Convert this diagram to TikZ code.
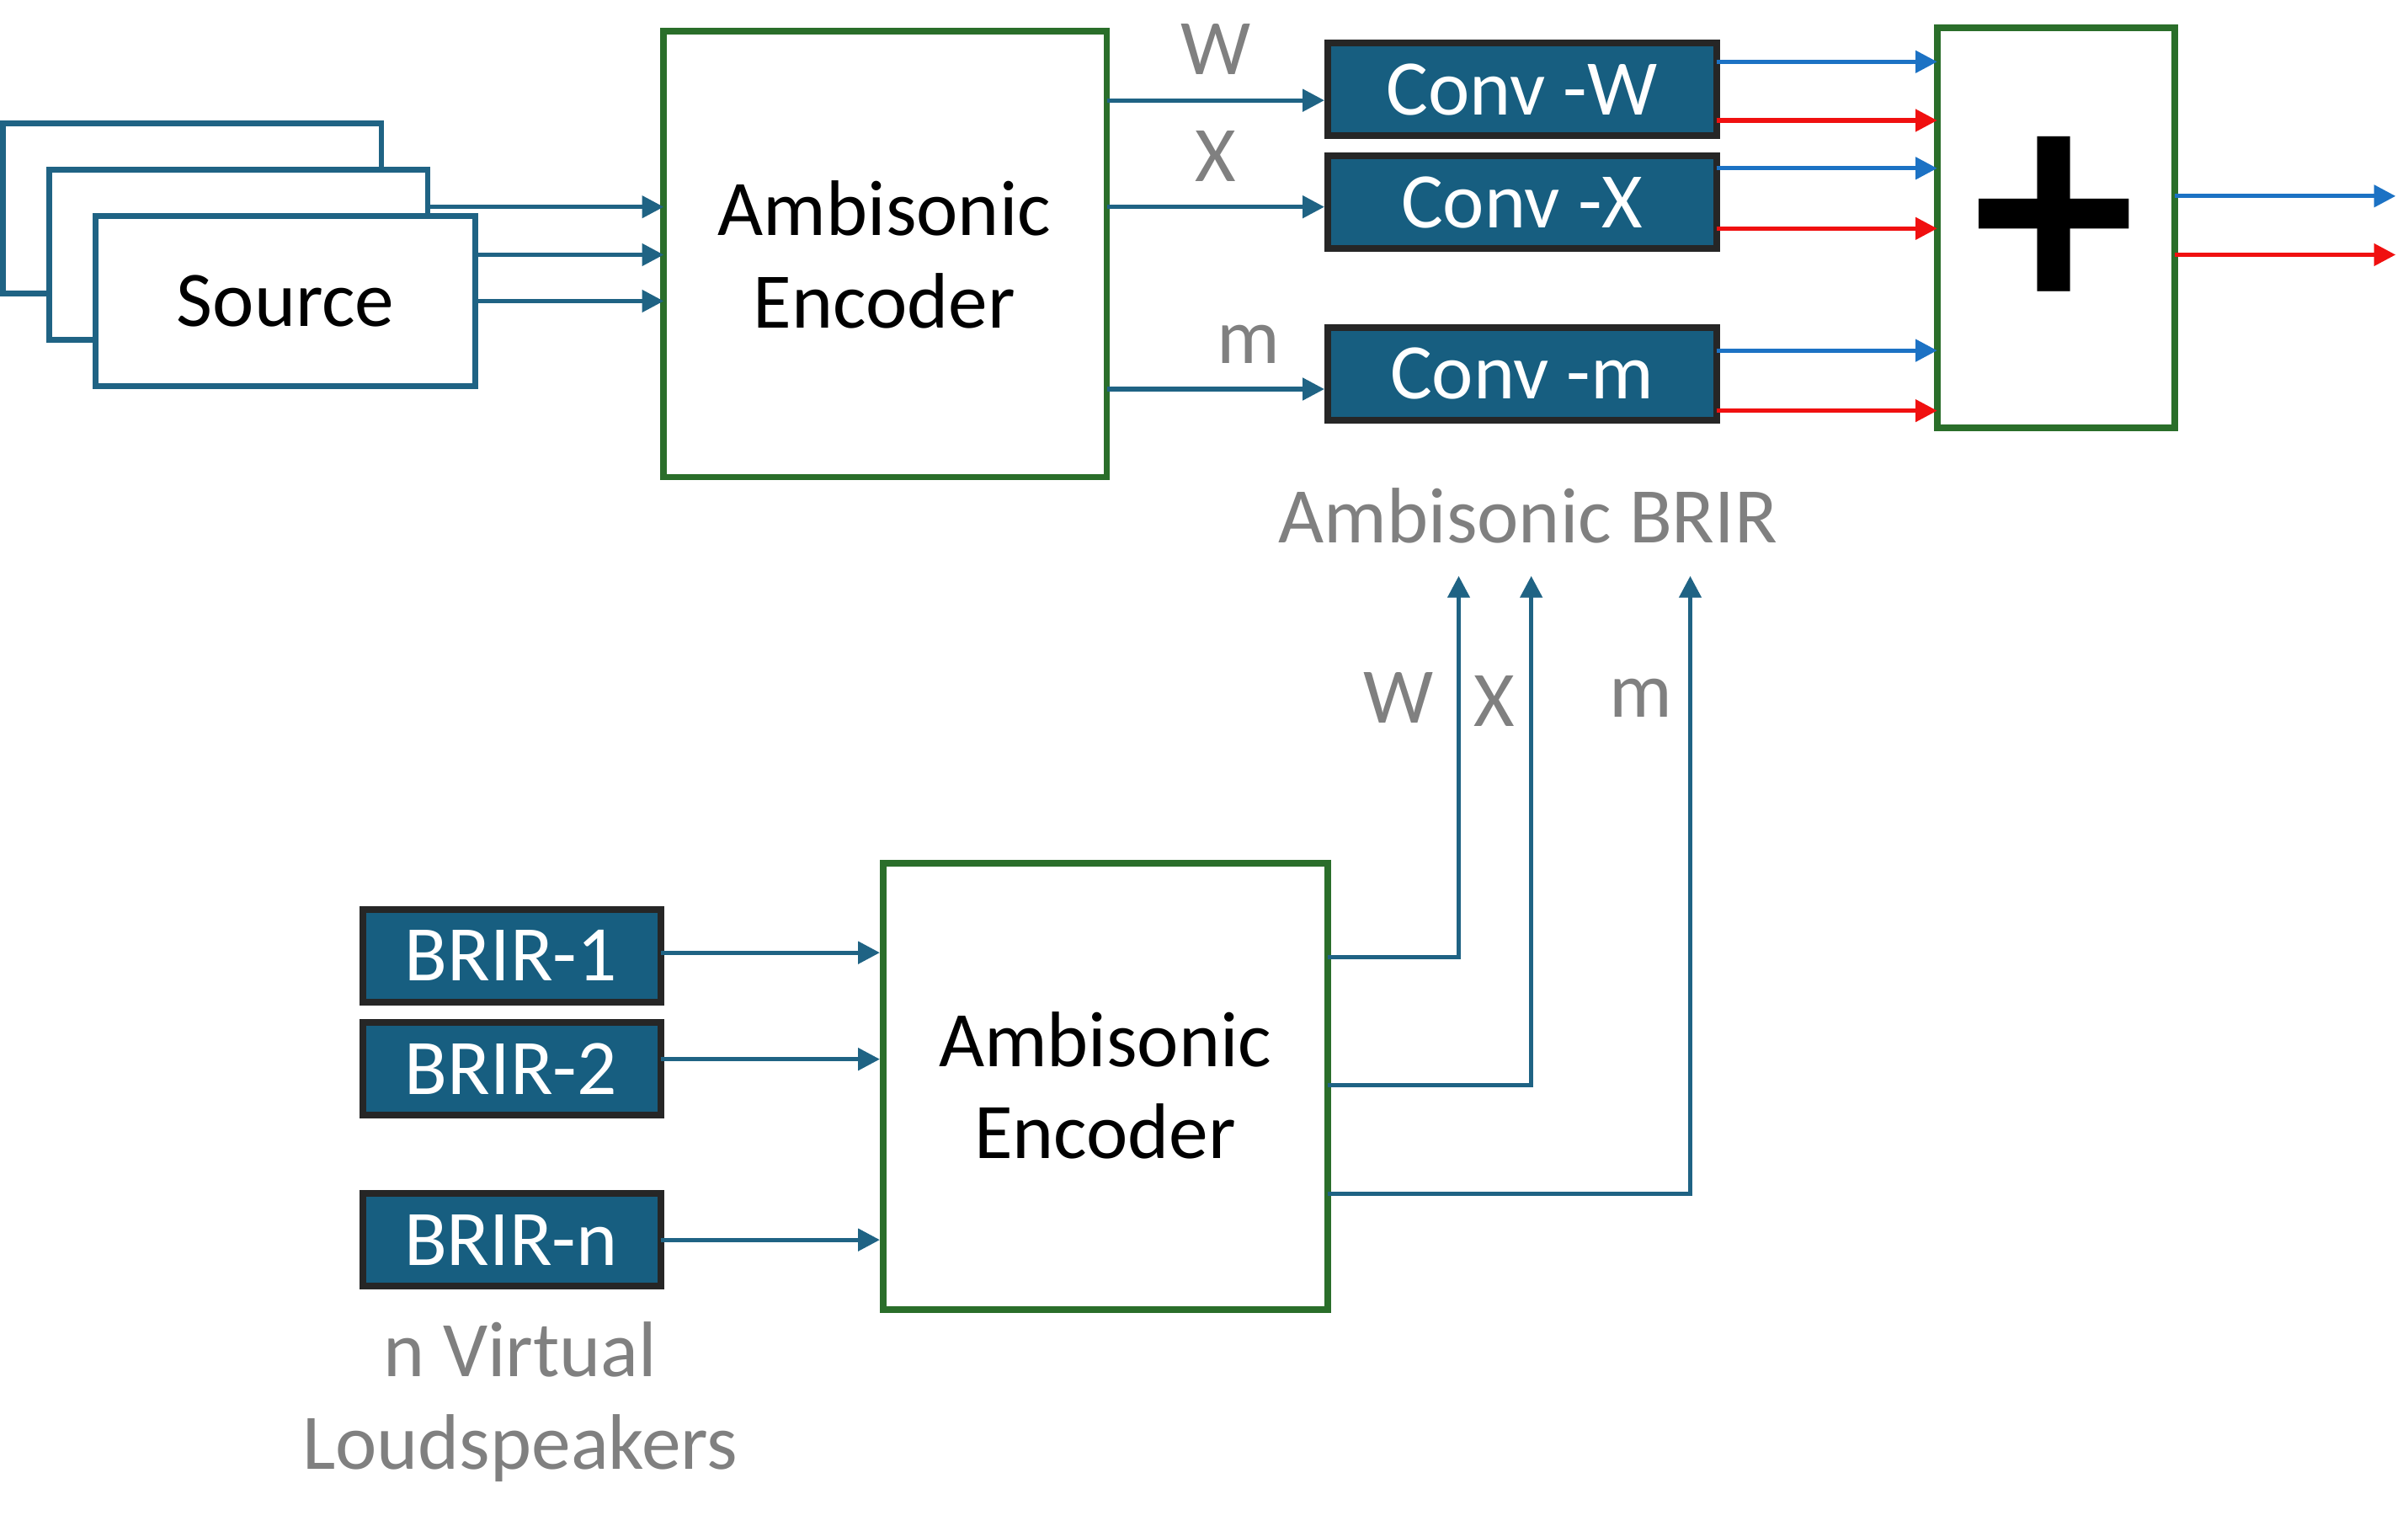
\documentclass[tikz,border=0pt]{standalone}
\usepackage{fontspec}
\setmainfont{Carlito}
\usetikzlibrary{arrows.meta}
\definecolor{edge}{HTML}{1F6384}
\definecolor{grn}{HTML}{2A6E2A}
\definecolor{cfill}{HTML}{175E80}
\definecolor{bl}{HTML}{1C72C4}
\definecolor{rd}{HTML}{F01010}
\definecolor{gtxt}{HTML}{808080}
\begin{document}
\begin{tikzpicture}[x=0.01cm,y=-0.01cm,
  font=\fontsize{14.5}{17}\selectfont,
  src/.style={draw=edge,line width=1pt,fill=white},
  enc/.style={draw=grn,line width=1.2pt,fill=white,align=center},
  conv/.style={draw=black!85,line width=1.2pt,fill=cfill,text=white},
  lab/.style={text=gtxt},
  ar/.style={draw=edge,line width=0.8pt,-{Triangle[length=4pt,width=4pt]}},
  ab/.style={draw=bl,line width=0.8pt,-{Triangle[length=4pt,width=4pt]}},
  arr/.style={draw=rd,line width=0.8pt,-{Triangle[length=4pt,width=4pt]}}]
\useasboundingbox (0,0) rectangle (1560,985);
% sources
\draw[src] (2,80) rectangle (247,190);
\draw[src] (32,110) rectangle (277,220);
\draw[src] (62,140) rectangle (308,250);
\node (src) at (185,195) {Source};
\coordinate (s1) at (277,134);
\coordinate (s2) at (308,165);
\coordinate (s3) at (308,195);
% encoder 1
\draw[enc] (430,20) rectangle (717,309);
\node[align=center] (enc1) at (573,165) {Ambisonic\\Encoder};
\coordinate (e1i1) at (430,134);\coordinate (e1i2) at (430,165);\coordinate (e1i3) at (430,195);
\draw[ar] (s1) -- (e1i1);\draw[ar] (s2) -- (e1i2);\draw[ar] (s3) -- (e1i3);
% conv
\draw[conv] (860,28) rectangle (1112,88); \node[text=white] (cw) at (986,58) {Conv -W};
\draw[conv] (860,101) rectangle (1112,161); \node[text=white] (cx) at (986,131) {Conv -X};
\draw[conv] (860,212) rectangle (1112,272); \node[text=white] (cm) at (986,242) {Conv -m};
\coordinate (o1) at (717,65);\coordinate (o2) at (717,134);\coordinate (o3) at (717,252);
\coordinate (c1) at (858,65);\coordinate (c2) at (858,134);\coordinate (c3) at (858,252);
\draw[ar] (o1) -- node[lab,above=1pt] {W} (c1);
\draw[ar] (o2) -- node[lab,above=1pt] {X} (c2);
\draw[ar] (o3) -- node[lab,above=1pt,xshift=6] {m} (c3);
% sum
\draw[enc] (1255,18) rectangle (1409,277);
\node (sum) at (1331,147) {\fontsize{60}{60}\selectfont\bfseries +};
\foreach \y in {40,109,227}{\draw[ab] (1112,\y) -- (1255,\y);}
\foreach \y in {78,148,266}{\draw[arr] (1112,\y) -- (1255,\y);}
\coordinate (so1) at (1409,127);\coordinate (so2) at (1409,165);
\coordinate (f1) at (1552,127);\coordinate (f2) at (1552,165);
\draw[ab] (so1) -- (f1);\draw[arr] (so2) -- (f2);
\node[lab] (brir) at (990,334) {Ambisonic BRIR};
% encoder 2
\draw[enc] (572,559) rectangle (860,848);
\node[align=center] (enc2) at (716,703) {Ambisonic\\Encoder};
\draw[conv] (235,589) rectangle (428,649); \node[text=white] (b1) at (331,619) {BRIR-1};
\draw[conv] (235,662) rectangle (428,722); \node[text=white] (b2) at (331,692) {BRIR-2};
\draw[conv] (235,773) rectangle (428,833); \node[text=white] (bn) at (331,803) {BRIR-n};
\draw[ar] (428,617) -- (570,617);
\draw[ar] (428,686) -- (570,686);
\draw[ar] (428,803) -- (570,803);
\coordinate (t1) at (945,373);\coordinate (t2) at (992,373);\coordinate (t3) at (1095,373);
\draw[ar] (860,620) -| (t1);
\draw[ar] (860,703) -| (t2);
\draw[ar] (860,773) -| (t3);
\node[lab] (lw) at (906,452) {W};
\node[lab] (lx) at (968,454) {X};
\node[lab] (lm) at (1063,452) {m};
\node[lab,align=center] (nv) at (337,908) {n Virtual\\Loudspeakers};
\end{tikzpicture}
\end{document}
